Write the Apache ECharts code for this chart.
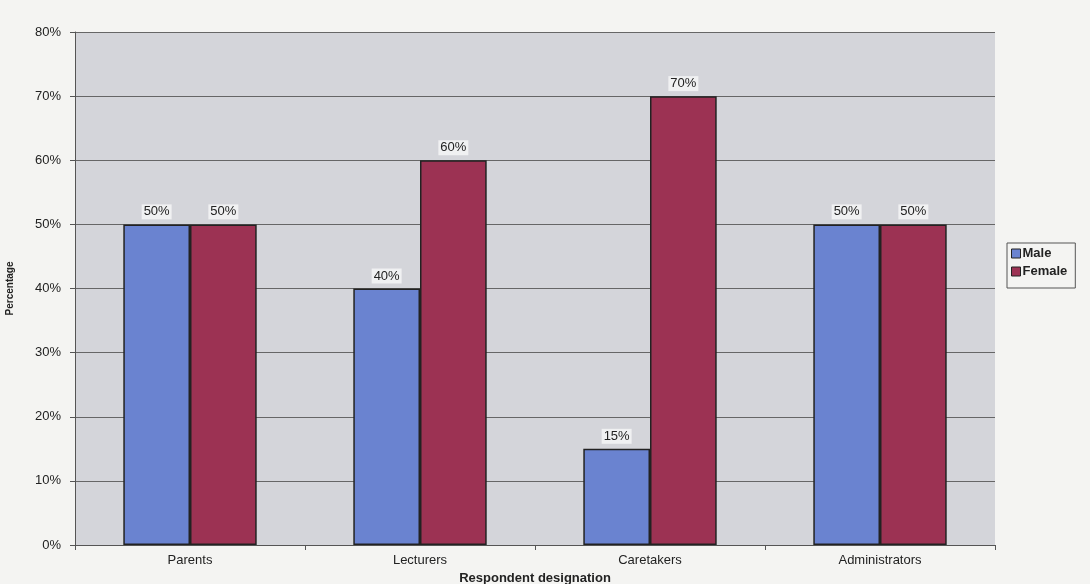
<!DOCTYPE html>
<html>
<head>
<meta charset="utf-8">
<script src="https://cdn.jsdelivr.net/npm/echarts@6/dist/echarts.min.js"></script>
<style>
  html, body { margin: 0; padding: 0; background: #f4f4f2; }
  #chart { width: 1090px; height: 584px; }
</style>
</head>
<body>
<div id="chart"></div>
<script>
// Respondent designation by gender (percent)
const categories = ['Parents', 'Lecturers', 'Caretakers', 'Administrators'];
const maleValues = [50, 40, 15, 50];
const femaleValues = [50, 60, 70, 50];
const yTicks = [0, 10, 20, 30, 40, 50, 60, 70, 80];

const font = '"Liberation Sans", Arial, sans-serif';

const labelStyle = {
  show: true,
  position: 'top',
  distance: 5,
  formatter: p => p.value + '%',
  fontFamily: font,
  fontSize: 13,
  color: '#222',
  backgroundColor: 'rgba(252,252,252,0.7)',
  padding: [1, 2]
};

const chart = echarts.init(document.getElementById('chart'));
chart.setOption({
  backgroundColor: '#f4f4f2',
  animation: false,
  textStyle: { fontFamily: font },
  grid: {
    left: 75, right: 95, top: 32, bottom: 39,
    outerBoundsMode: 'none',
    show: true, backgroundColor: '#d4d5da', borderWidth: 0
  },
  legend: {
    orient: 'vertical',
    left: 1007,
    top: 243,
    icon: 'rect',
    itemWidth: 9,
    itemHeight: 9,
    itemGap: 5,
    padding: [4, 8, 10, 4],
    borderColor: '#555',
    borderWidth: 1,
    textStyle: { fontFamily: font, fontSize: 13, fontWeight: 'bold', color: '#222', padding: [0, 0, 0, -3] },
    data: [
      { name: 'Male', itemStyle: { borderColor: '#222', borderWidth: 1 } },
      { name: 'Female', itemStyle: { borderColor: '#222', borderWidth: 1 } }
    ]
  },
  xAxis: {
    type: 'category',
    data: categories,
    name: 'Respondent designation',
    nameLocation: 'middle',
    nameGap: 27,
    nameTextStyle: { fontFamily: font, fontSize: 13, fontWeight: 'bold', color: '#222' },
    axisLine: { lineStyle: { color: '#555', width: 1 } },
    axisTick: { show: true, lineStyle: { color: '#555' } },
    axisLabel: { fontFamily: font, fontSize: 13, color: '#222', margin: 9 }
  },
  yAxis: {
    type: 'value',
    min: yTicks[0],
    max: yTicks[yTicks.length - 1],
    interval: 10,
    name: 'Percentage',
    nameLocation: 'middle',
    nameGap: 60,
    nameTextStyle: { fontFamily: font, fontSize: 10, fontWeight: 'bold', color: '#222' },
    axisLine: { show: true, lineStyle: { color: '#555', width: 1 } },
    axisTick: { show: true, lineStyle: { color: '#555' } },
    axisLabel: { fontFamily: font, fontSize: 13, color: '#222', formatter: v => v + '%', margin: 14 },
    splitLine: { lineStyle: { color: '#666', width: 1 } }
  },
  series: [
    {
      name: 'Male',
      type: 'bar',
      data: maleValues,
      barGap: '0%',
      barCategoryGap: '42%',
      itemStyle: { color: '#6a83d0', borderColor: '#222', borderWidth: 1.5 },
      label: labelStyle
    },
    {
      name: 'Female',
      type: 'bar',
      data: femaleValues,
      itemStyle: { color: '#9c3253', borderColor: '#222', borderWidth: 1.5 },
      label: labelStyle
    }
  ]
});
</script>
</body>
</html>
